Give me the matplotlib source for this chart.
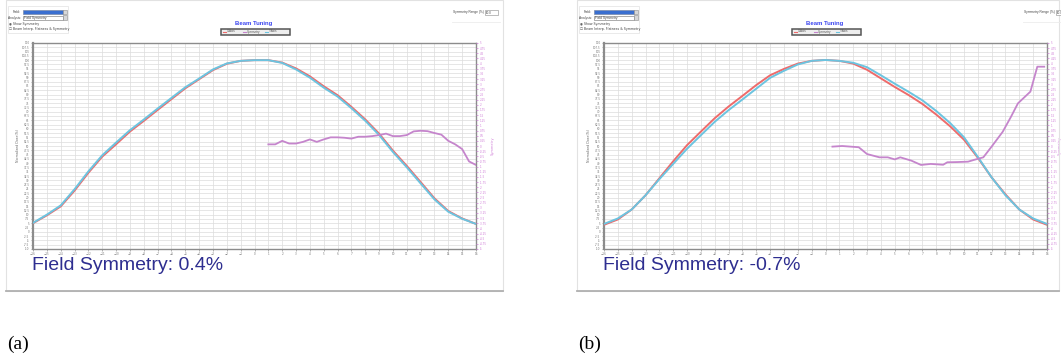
import matplotlib.pyplot as plt
from matplotlib.patches import Rectangle
from matplotlib.lines import Line2D

# positions along the beam (cm), integer steps
pos = list(range(-16, 17))

# panel (a) profiles (%)
red_a = [5.0, 9.6, 14.8, 24.0, 34.4, 43.8, 51.0, 58.4, 64.6, 71.0, 77.3, 83.6, 88.9,
         94.2, 97.9, 99.6, 100.0, 100.0, 98.6, 95.2, 90.6, 84.8, 79.6, 72.8, 65.5,
         57.2, 47.3, 38.4, 29.0, 19.5, 12.1, 7.8, 4.6]
blue_a = [5.2, 10.0, 15.4, 24.8, 35.2, 44.6, 52.0, 59.2, 65.4, 71.8, 78.0, 84.2, 89.3,
          94.6, 98.1, 99.6, 100.0, 100.0, 98.4, 94.6, 89.8, 84.0, 78.8, 72.0, 64.7,
          56.4, 46.5, 37.6, 28.2, 18.9, 11.7, 7.6, 4.6]
# panel (a) symmetry curve (right axis, %)
sym_x_a = [1.0, 1.5, 2.0, 2.5, 3.0, 3.5, 4.0, 4.5, 5.0, 5.5, 6.0, 6.5, 7.0, 7.5, 8.0,
           8.5, 9.0, 9.5, 10.0, 10.5, 11.0, 11.5, 12.0, 12.5, 13.0, 13.5, 14.0, 14.5,
           15.0, 15.5, 16.0]
sym_y_a = [0.08, 0.08, 0.25, 0.12, 0.12, 0.20, 0.32, 0.20, 0.32, 0.42, 0.42, 0.40,
           0.36, 0.45, 0.45, 0.48, 0.53, 0.60, 0.48, 0.48, 0.53, 0.71, 0.74, 0.72,
           0.63, 0.55, 0.25, 0.08, -0.15, -0.75, -0.92]

# panel (b) profiles (%)
red_b = [4.1, 7.2, 13.0, 21.3, 31.2, 41.1, 50.5, 58.4, 66.2, 73.0, 79.2, 85.5, 91.2,
         94.9, 98.0, 99.6, 100.1, 99.6, 98.0, 94.4, 89.4, 84.4, 79.7, 74.5, 68.3,
         61.5, 53.7, 43.2, 31.7, 21.8, 13.0, 7.2, 4.1]
blue_b = [4.6, 7.8, 13.0, 21.3, 30.7, 39.6, 48.4, 56.3, 64.1, 70.9, 77.1, 83.4, 89.7,
          93.8, 97.5, 99.6, 100.1, 99.6, 98.5, 95.9, 91.2, 86.3, 81.6, 76.6, 70.4,
          63.4, 55.1, 43.7, 31.7, 21.3, 13.0, 7.8, 4.6]
sym_x_b = [0.5, 1.2, 2.4, 3.0, 3.9, 4.5, 5.0, 5.4, 6.2, 6.9, 7.6, 8.5, 8.8, 9.5, 10.3,
           10.7, 11.4, 12.0, 12.8, 13.4, 13.9, 14.8, 15.3, 15.8]
sym_y_b = [-0.03, 0.0, -0.06, -0.39, -0.55, -0.55, -0.65, -0.55, -0.71, -0.92, -0.87,
           -0.91, -0.79, -0.78, -0.76, -0.68, -0.55, -0.03, 0.69, 1.42, 2.07, 2.64,
           3.85, 3.85]

W, H = 1061, 354
RED, BLUE, PURPLE = '#ee6b6b', '#6cc4e0', '#c585cc'
UI = 'Liberation Sans'


def fx(px):
    return px / W


def fy(py):
    return 1 - py / H


fig = plt.figure(figsize=(W / 100, H / 100), dpi=100)


def draw_panel(x0, red, blue, sx, sy, sym_text, tag, frame_w=497, sym_pad=3):
    # panel frame
    fig.add_artist(Rectangle((fx(x0 + 6), fy(291)), fx(frame_w), 291 / H,
                             transform=fig.transFigure, fill=False,
                             edgecolor='#e2e2e2', lw=0.8))
    fig.add_artist(Line2D([fx(x0 + 6), fx(x0 + 6 + frame_w)], [fy(291), fy(291)],
                          transform=fig.transFigure, color='#b0b0b0', lw=1.3))

    # control widgets, top left
    fig.add_artist(Rectangle((fx(x0 + 8), fy(33)), fx(60), 27 / H,
                             transform=fig.transFigure, fill=False,
                             edgecolor='#e6e6e6', lw=0.6))
    fig.text(fx(x0 + 21), fy(12), 'Field:', fontsize=2.3, ha='right', va='center',
             family=UI, color='#444')
    fig.add_artist(Rectangle((fx(x0 + 23), fy(14)), fx(40), 4.5 / H,
                             transform=fig.transFigure, facecolor='#3a6fd0',
                             edgecolor='#7a8aa8', lw=0.5))
    fig.text(fx(x0 + 21), fy(17.5), 'Analysis:', fontsize=2.3, ha='right', va='center',
             family=UI, color='#444')
    fig.add_artist(Rectangle((fx(x0 + 23), fy(20)), fx(40), 4.5 / H,
                             transform=fig.transFigure, facecolor='white',
                             edgecolor='#8a8a8a', lw=0.5))
    fig.text(fx(x0 + 24), fy(17.7), 'Field Symmetry', fontsize=2.3, va='center',
             family=UI, color='#444')
    for yy in (12, 17.5):
        fig.add_artist(Rectangle((fx(x0 + 63), fy(yy + 2.3)), fx(4), 4.5 / H,
                                 transform=fig.transFigure, facecolor='#d8d8d8',
                                 edgecolor='#8a8a8a', lw=0.4))
    fig.text(fx(x0 + 9), fy(24), '\u25c9 Show Symmetry', fontsize=2.3, va='center',
             family=['DejaVu Sans'], color='#444')
    fig.text(fx(x0 + 9), fy(29), '\u2610 Beam Interp. Flatness & Symmetry', fontsize=2.3,
             va='center', family=['DejaVu Sans'], color='#444')

    # title and legend strip
    fig.text(fx(x0 + 254), fy(23), 'Beam Tuning', fontsize=4.3, ha='center',
             va='center', color='#3c46f0', weight='bold', family=UI)
    fig.add_artist(Rectangle((fx(x0 + 221), fy(34.5)), fx(69), 6 / H,
                             transform=fig.transFigure, facecolor='#eeeeee',
                             edgecolor='#555555', lw=1.1))
    for lx, col, name in [(226, RED, 'X-Axis'), (246, PURPLE, 'Symmetry'),
                          (268, BLUE, 'Y-Axis')]:
        fig.add_artist(Line2D([fx(x0 + lx - 3), fx(x0 + lx)], [fy(31.5), fy(31.5)],
                              transform=fig.transFigure, color=col, lw=0.8))
        fig.text(fx(x0 + lx + 1), fy(31.5), name, fontsize=2.2, va='center',
                 family=UI, color='#555')

    # symmetry range box top right
    fig.text(fx(x0 + 484), fy(12.5), 'Symmetry Range (%)', fontsize=2.3, ha='right',
             va='center', family=UI, color='#444')
    fig.add_artist(Rectangle((fx(x0 + 485), fy(15)), fx(13), 5 / H,
                             transform=fig.transFigure, facecolor='white',
                             edgecolor='#8a8a8a', lw=0.4))
    fig.text(fx(x0 + 486), fy(12.5), '10.0', fontsize=2.2, va='center', family=UI,
             color='#444')
    fig.add_artist(Line2D([fx(x0 + 452), fx(x0 + 500)], [fy(22), fy(22)],
                          transform=fig.transFigure, color='#ececec', lw=0.6))

    # main plot
    ax = fig.add_axes([fx(x0 + 33), fy(249), fx(443), 206 / H])
    ax.set_xlim(-16, 16)
    ax.set_ylim(-10, 110)
    ax.set_xticks(range(-16, 17))
    ax.set_yticks([-10 + 2.5 * i for i in range(49)])
    ax.set_yticklabels(['%g' % (-10 + 2.5 * i) for i in range(49)])
    ax.grid(True, color='#dcdcdc', lw=0.5)
    ax.tick_params(labelsize=2.0, colors='#777', length=1.5, width=0.4, pad=1)
    for s in ax.spines.values():
        s.set_color('#8c8c8c')
        s.set_linewidth(1.0)
    ax.spines['left'].set_linewidth(1.6)
    ax.set_ylabel('Normalized Dose(%)', fontsize=2.3, color='#666', labelpad=1.5)
    ax.plot(pos, red, color=RED, lw=1.4, zorder=3, solid_joinstyle='round')
    ax.plot(pos, blue, color=BLUE, lw=1.4, zorder=4, solid_joinstyle='round')

    ax2 = ax.twinx()
    ax2.set_ylim(-5, 5)
    ax2.set_yticks([-5 + 0.25 * i for i in range(41)])
    ax2.set_yticklabels(['%g' % (-5 + 0.25 * i) for i in range(41)])
    ax2.tick_params(labelsize=2.0, colors='#d080d8', length=1.5, width=0.5, pad=1)
    ax2.set_ylabel('Symmetry', fontsize=2.5, color='#d080d8', labelpad=sym_pad)
    for s in ax2.spines.values():
        s.set_visible(False)
    ax2.plot(sx, sy, color=PURPLE, lw=1.3, zorder=5, solid_joinstyle='round')

    # summary text and caption
    fig.text(fx(x0 + 32), fy(266), sym_text, fontsize=14, va='center', family=UI,
             color='#2e2e90')
    fig.text(fx(x0 + 7), fy(344), tag, fontsize=14, va='center',
             family='Liberation Serif', color='black')


draw_panel(0, red_a, blue_a, sym_x_a, sym_y_a, 'Field Symmetry: 0.4%', '(a)')
draw_panel(571, red_b, blue_b, sym_x_b, sym_y_b, 'Field Symmetry: -0.7%', '(b)',
           frame_w=482, sym_pad=0.5)

fig.savefig('out.png', dpi=100, facecolor='white')
